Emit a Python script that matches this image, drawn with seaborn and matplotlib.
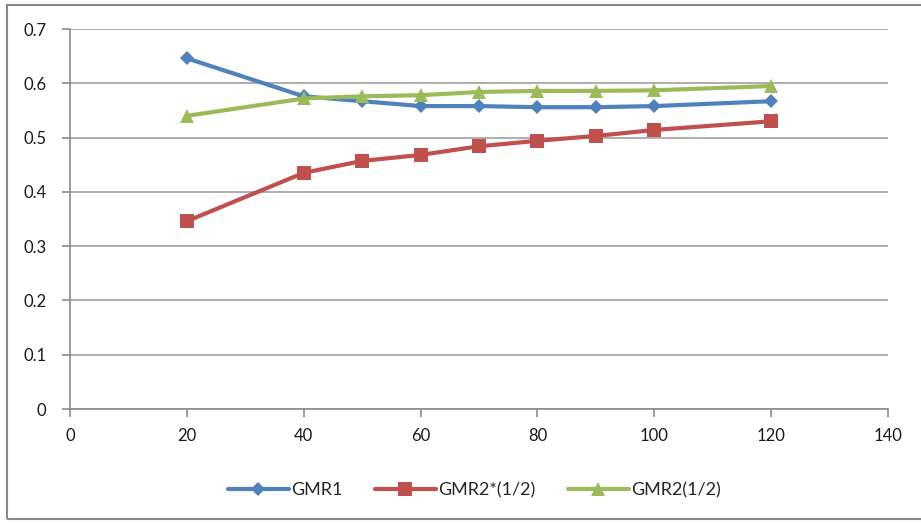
import matplotlib
matplotlib.use("Agg")
import matplotlib.pyplot as plt
import seaborn as sns
import pandas as pd
from matplotlib.patches import Rectangle
from matplotlib.lines import Line2D

x_values = [20, 40, 50, 60, 70, 80, 90, 100, 120]
gmr1 = [0.646, 0.576, 0.567, 0.558, 0.558, 0.556, 0.556, 0.558, 0.567]
gmr2_star = [0.346, 0.435, 0.457, 0.468, 0.484, 0.494, 0.503, 0.514, 0.530]
gmr2 = [0.540, 0.572, 0.576, 0.578, 0.584, 0.586, 0.586, 0.587, 0.595]
series_names = ["GMR1", "GMR2*(1/2)", "GMR2(1/2)"]
colors = ["#4F81BD", "#C0504D", "#9BBB59"]
markers = ["D", "s", "^"]
msizes = [7.5, 10, 10]

rows = []
for name, vals in zip(series_names, [gmr1, gmr2_star, gmr2]):
    for xv, yv in zip(x_values, vals):
        rows.append({"x": xv, "y": yv, "series": name})
df = pd.DataFrame(rows)

sns.set_theme(style="white")
plt.rcParams['font.family'] = ['Lato', 'DejaVu Sans']

fig = plt.figure(figsize=(9.21, 5.23), dpi=100)
ax = fig.add_axes([70/921, 1 - 409/523, 818/921, 380/523])

for name, ms in zip(series_names, msizes):
    sns.lineplot(data=df[df["series"] == name], x="x", y="y",
                 color=colors[series_names.index(name)],
                 marker=markers[series_names.index(name)],
                 linewidth=3, markersize=ms, markeredgewidth=0,
                 ax=ax, legend=False)

ax.set_xlim(0, 140)
ax.set_ylim(0, 0.7)
ax.set_xticks(range(0, 141, 20))
ax.set_yticks([i / 10 for i in range(8)])
ax.set_yticklabels(["0", "0.1", "0.2", "0.3", "0.4", "0.5", "0.6", "0.7"])
ax.set_xlabel("")
ax.set_ylabel("")
ax.yaxis.grid(True, color="#A0A0A0", linewidth=1.2)
ax.xaxis.grid(False)
ax.set_axisbelow(True)
for s in ["top", "right"]:
    ax.spines[s].set_visible(False)
for s in ["left", "bottom"]:
    ax.spines[s].set_color("#8C8C8C")
    ax.spines[s].set_linewidth(1.2)
ax.tick_params(axis="both", which="both", direction="out", length=6, width=1.2,
               color="#8C8C8C", labelsize=12, labelcolor="#1a1a1a",
               left=True, bottom=True)
ax.tick_params(axis="y", pad=11)
ax.tick_params(axis="x", pad=8)

handles = [Line2D([], [], color=c, marker=m, linewidth=3, markersize=ms, markeredgewidth=0)
           for c, m, ms in zip(colors, markers, msizes)]
fig.legend(handles, series_names, loc="center", bbox_to_anchor=(474/921, 1 - 490/523),
           ncol=3, frameon=False, fontsize=13, handlelength=3.4, handletextpad=0.1,
           columnspacing=1.8)

fig.patches.append(Rectangle((7/921, 4/523), 1.2, 1 - 9/523, transform=fig.transFigure,
                             fill=False, edgecolor="#888888", linewidth=1.5))

fig.savefig("out.png", dpi=100)
